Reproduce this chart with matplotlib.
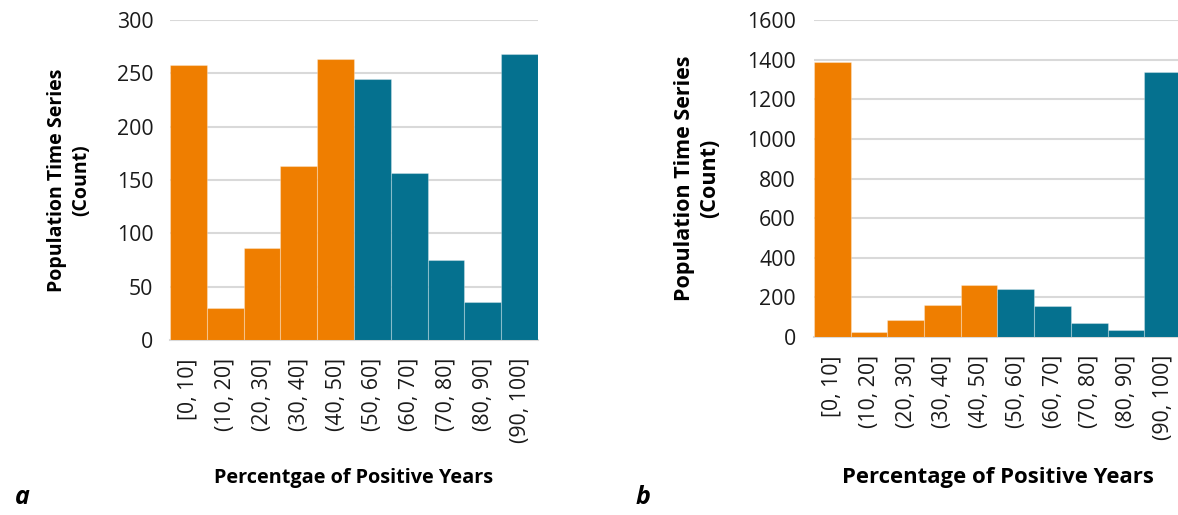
import matplotlib
matplotlib.use('Agg')
import matplotlib.pyplot as plt
import numpy as np

plt.rcParams['font.family'] = ['Open Sans', 'DejaVu Sans']

bins = ['[0, 10]', '(10, 20]', '(20, 30]', '(30, 40]', '(40, 50]',
        '(50, 60]', '(60, 70]', '(70, 80]', '(80, 90]', '(90, 100]']
counts_a = [258, 30, 86, 163, 263, 245, 157, 75, 36, 268]
counts_b = [1386, 27, 84, 164, 262, 243, 157, 73, 34, 1338]
bar_colors = ['#EF7E00'] * 5 + ['#05718F'] * 5

fig = plt.figure(figsize=(11.78, 5.15), dpi=100)
ax1 = fig.add_axes([0.1443, 0.3398, 0.3124, 0.6214])
ax2 = fig.add_axes([0.6910, 0.3456, 0.3115, 0.6155])


def style(ax, counts, ymax, ystep, ylab_x, fs_lab, ypad):
    x = np.arange(len(bins))
    ax.bar(x, counts, width=1.0, color=bar_colors,
           edgecolor=(1, 1, 1, 0.3), linewidth=0.8, zorder=3)
    ax.set_xlim(-0.5, len(bins) - 0.5)
    ax.set_ylim(0, ymax)
    ax.set_yticks(np.arange(0, ymax + 1, ystep))
    ax.set_xticks(x)
    ax.set_xticklabels(bins, rotation=90)
    ax.grid(axis='y', color='#D9D9D9', linewidth=1.5, zorder=0)
    ax.set_axisbelow(True)
    for s in ['top', 'right', 'left']:
        ax.spines[s].set_visible(False)
    ax.spines['bottom'].set_color('#D9D9D9')
    ax.spines['bottom'].set_linewidth(1.5)
    ax.tick_params(axis='both', length=0, labelsize=15.3, colors='#1a1a1a')
    ax.tick_params(axis='y', pad=ypad)
    ax.tick_params(axis='x', pad=13)
    ax.set_ylabel('Population Time Series\n(Count)', fontsize=fs_lab,
                  fontweight='bold', linespacing=1.25)
    ax.yaxis.set_label_coords(ylab_x, 0.5)
    ax.yaxis.label.set_va('center')


style(ax1, counts_a, 300, 50, -0.274, 14, 12)
style(ax2, counts_b, 1600, 200, -0.318, 15.5, 13)

ax1.set_xlabel('Percentgae of Positive Years', fontsize=14.3, fontweight='bold')
ax1.xaxis.set_label_coords(0.5, -0.431)
ax1.xaxis.label.set_va('center')
ax2.set_xlabel('Percentage of Positive Years', fontsize=15.9, fontweight='bold')
ax2.xaxis.set_label_coords(0.5, -0.442)
ax2.xaxis.label.set_va('center')

fig.text(15 / 1178, 1 - 497 / 515, 'a', fontsize=18, fontweight='bold',
         fontstyle='italic', va='center', ha='left')
fig.text(636 / 1178, 1 - 497 / 515, 'b', fontsize=18, fontweight='bold',
         fontstyle='italic', va='center', ha='left')

fig.savefig('out.png', dpi=100)
